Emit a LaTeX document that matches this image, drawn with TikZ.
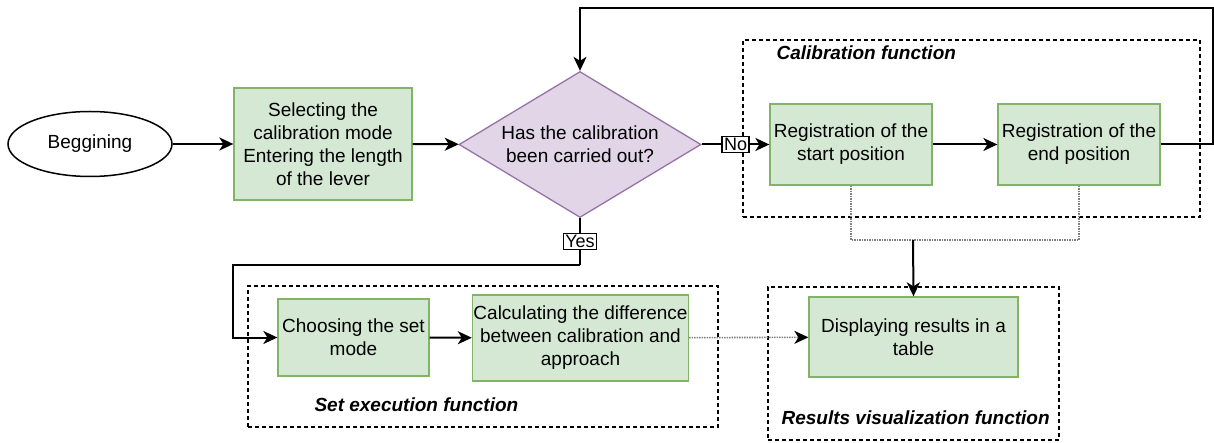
\documentclass[tikz,border=0pt]{standalone}
\usepackage{fontspec}
\setmainfont{Liberation Sans}
\usetikzlibrary{shapes.geometric,arrows.meta,positioning}
\definecolor{gfill}{HTML}{D5E8D4}\definecolor{gline}{HTML}{82B366}
\definecolor{pfill}{HTML}{E1D5E7}\definecolor{pline}{HTML}{9673A6}
\tikzset{p/.style={draw=gline,fill=gfill,line width=1.3pt,align=center,font=\fontsize{19}{23}\selectfont,inner sep=1pt},
 q/.style={draw=pline,fill=pfill,line width=1.3pt,diamond,aspect=1.65,inner sep=0pt,minimum width=242pt,minimum height=146pt,align=center,font=\fontsize{19}{23}\selectfont},
 t/.style={draw,ellipse,line width=1.5pt,minimum width=164pt,minimum height=65pt,font=\fontsize{19}{23}\selectfont},
 fr/.style={draw,line width=1.5pt,dash pattern=on 4pt off 3pt},
 ft/.style={anchor=west,font=\fontsize{19}{23}\selectfont\bfseries\itshape},
 ar/.style={line width=2pt,-{Stealth[length=14pt,width=13pt,inset=4pt]}},
 gl/.style={draw=gray,line width=1.6pt,dash pattern=on 1.5pt off 1pt},
 lb/.style={draw,fill=white,line width=1.2pt,inner sep=2pt,font=\fontsize{18}{20}\selectfont}}

\begin{document}
\begin{tikzpicture}[x=1pt,y=-1pt]
\useasboundingbox (0,0) rectangle (1214,443);
\node[fr,minimum width=457pt,minimum height=177pt](calfr) at (971.5,128.5){};\node[ft] at (773,53){Calibration function};
\node[fr,minimum width=470pt,minimum height=141pt](setfr) at (483,356.5){};\node[ft] at (311,405){Set execution function};
\node[fr,minimum width=291pt,minimum height=153pt](resfr) at (913.5,363.5){};\node[ft] at (778,418){Results visualization function};
\node[t](start) at (90,144){Beggining};
\node[p,minimum width=178pt,minimum height=112pt](sel) at (323,144){Selecting the\\calibration mode\\Entering the length\\of the lever};
\node[q](dec) at (580,144.5){Has the calibration\\been carried out?};
\node[p,minimum width=162pt,minimum height=81pt](regs) at (851,144.5){Registration of the\\start position};
\node[p,minimum width=162pt,minimum height=81pt](rege) at (1079,144.5){Registration of the\\end position};
\node[p,minimum width=151pt,minimum height=77pt](choose) at (353.5,337.5){Choosing the set\\mode};
\node[p,minimum width=211pt,minimum height=86pt](calc) at (580.5,338){Calculating the difference\\between calibration and\\approach};
\node[p,minimum width=209pt,minimum height=80pt](disp) at (913.5,337){Displaying results in a\\table};
\coordinate (rt) at (1213,8);\coordinate (yb) at (233,265);\coordinate (mg) at (913,240);
\draw[ar](start)--(sel);\draw[ar](sel)--(dec);\draw[ar](dec)--node[lb]{No}(regs);\draw[ar](regs)--(rege);
\draw[ar](rege.east)--(rt|-rege)--(rt)-|(dec.north);
\draw[line width=2pt](dec.south)--node[lb]{Yes}(dec.south|-yb);
\draw[ar](dec.south|-yb)--(yb)--(yb|-choose)--(choose);\draw[ar](choose)--(calc);
\draw[gl](regs.south)--(regs.south|-mg)--(rege.south|-mg)--(rege.south);
\draw[ar](mg)--(disp.north);
\draw[gl,-{Stealth[length=14pt,width=13pt,inset=4pt,black]}](calc)--(disp);
\end{tikzpicture}
\end{document}
